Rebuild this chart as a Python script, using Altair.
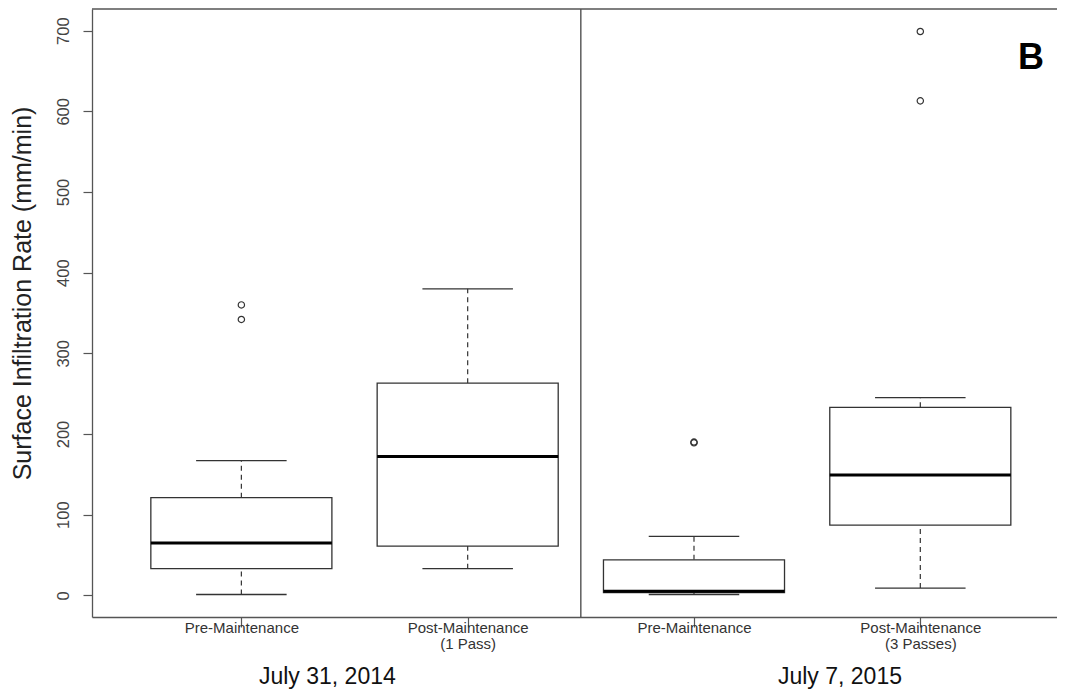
import json
import altair as alt
import pandas as pd

# ---- data ----
groups = [1, 2, 3, 4]
lower_whisker = [1, 33, 1, 9]
q1 = [33, 61, 3.5, 87]
median = [65, 172, 5, 149]
q3 = [121, 263, 44, 233]
upper_whisker = [167, 380, 73, 245]

outlier_group = [1, 1, 3, 3, 4, 4]
outlier_value = [342, 360, 189, 190, 613, 699]

tick_labels = [
    "Pre-Maintenance",
    ["Post-Maintenance", "(1 Pass)"],
    "Pre-Maintenance",
    ["Post-Maintenance", "(3 Passes)"],
]
y_ticks = [0, 100, 200, 300, 400, 500, 600, 700]
date_labels = ["July 31, 2014", "July 7, 2015"]
date_pos = [1.38, 3.645]
divider_pos = [2.5]
panel_letter = ["B"]

# ---- layout ----
W, H = 965, 608
FONT = "Liberation Sans"
LINE = "#333333"
FRAME = "#555555"

xscale = alt.Scale(domain=[0.34, 4.604], nice=False, zero=False)
yscale = alt.Scale(domain=[-26.9, 726.9], nice=False, zero=False)

label_expr = json.dumps(tick_labels) + "[datum.value - 1]"
x_axis = alt.Axis(
    values=groups, labelExpr=label_expr, title=None, grid=False,
    tickSize=10, tickColor=FRAME, tickWidth=1.2, domainColor=FRAME, domainWidth=1.3,
    labelFont=FONT, labelFontSize=15, labelColor="#333", labelPadding=5,
    labelBaseline="alphabetic", labelLineHeight=16.5, labelOverlap=False, labelFlush=False,
)
y_axis = alt.Axis(
    values=y_ticks, grid=False, labelAngle=270, tickSize=9, tickColor=FRAME, tickWidth=1.2,
    domainColor=FRAME, domainWidth=1.3, labelFont=FONT, labelFontSize=16.5, labelColor="#444",
    labelPadding=12, labelOverlap=False, labelFlush=False,
    title="Surface Infiltration Rate (mm/min)", titleFont=FONT, titleFontSize=25,
    titleFontWeight="normal", titleColor="#222", titleX=-70, titleY=284, titleAngle=270,
    titleAlign="center", titleBaseline="middle",
)

box_df = pd.DataFrame(dict(g=groups, lo=lower_whisker, q1=q1, med=median, q3=q3, hi=upper_whisker))
out_df = pd.DataFrame(dict(g=outlier_group, v=outlier_value))
date_df = pd.DataFrame(dict(p=date_pos, t=date_labels))
div_df = pd.DataFrame(dict(x=divider_pos))
letter_df = pd.DataFrame(dict(t=panel_letter))

base = alt.Chart(box_df).transform_calculate(
    xl="datum.g - 0.4", xr="datum.g + 0.4", cl="datum.g - 0.2", cr="datum.g + 0.2"
)

whisk_up = base.mark_rule(color=LINE, strokeWidth=1.2, strokeDash=[5, 4]).encode(
    x=alt.X("g:Q", scale=xscale, axis=x_axis),
    y=alt.Y("q3:Q", scale=yscale, axis=y_axis), y2="hi:Q")
whisk_dn = base.mark_rule(color=LINE, strokeWidth=1.2, strokeDash=[5, 4]).encode(
    x=alt.X("g:Q", scale=xscale, axis=x_axis),
    y=alt.Y("lo:Q", scale=yscale, axis=y_axis), y2="q1:Q")
cap_up = base.mark_rule(color=LINE, strokeWidth=1.3).encode(
    x=alt.X("cl:Q", scale=xscale, axis=x_axis), x2="cr:Q",
    y=alt.Y("hi:Q", scale=yscale, axis=y_axis))
cap_dn = base.mark_rule(color=LINE, strokeWidth=1.3).encode(
    x=alt.X("cl:Q", scale=xscale, axis=x_axis), x2="cr:Q",
    y=alt.Y("lo:Q", scale=yscale, axis=y_axis))
box = base.mark_rect(fill="white", stroke=LINE, strokeWidth=1.3).encode(
    x=alt.X("xl:Q", scale=xscale, axis=x_axis), x2="xr:Q",
    y=alt.Y("q1:Q", scale=yscale, axis=y_axis), y2="q3:Q")
med = base.mark_rule(color="black", strokeWidth=3).encode(
    x=alt.X("xl:Q", scale=xscale, axis=x_axis), x2="xr:Q",
    y=alt.Y("med:Q", scale=yscale, axis=y_axis))

outl = alt.Chart(out_df).mark_point(shape="circle", filled=False, size=40, strokeWidth=1.2,
                                     color=LINE, opacity=1).encode(
    x=alt.X("g:Q", scale=xscale, axis=x_axis),
    y=alt.Y("v:Q", scale=yscale, axis=y_axis))

divider = alt.Chart(div_df).mark_rule(color="#444", strokeWidth=1.3).encode(
    x=alt.X("x:Q", scale=xscale, axis=x_axis), y=alt.value(0), y2=alt.value(H))
top_frame = alt.Chart(div_df).mark_rule(color=FRAME, strokeWidth=1.3).encode(
    x=alt.value(0), x2=alt.value(W), y=alt.value(0))

dates = alt.Chart(date_df).mark_text(font=FONT, fontSize=23, color="#111", align="center",
                                     baseline="alphabetic").encode(
    x=alt.X("p:Q", scale=xscale, axis=x_axis), y=alt.value(675), text="t:N")

letter = alt.Chart(letter_df).mark_text(font=FONT, fontSize=36, fontWeight="bold", color="black",
                                        align="center", baseline="alphabetic").encode(
    x=alt.value(939), y=alt.value(60), text="t:N")

chart = alt.layer(
    whisk_up, whisk_dn, cap_up, cap_dn, box, med, outl, divider, top_frame, dates, letter
).properties(
    width=W, height=H,
    padding={"left": 84, "top": 1, "right": 0, "bottom": 74},
    autosize=alt.AutoSizeParams(type="none"),
    background="white",
).configure_view(strokeWidth=0)

chart.save("out.html", embed_options={"renderer": "svg", "actions": False})
